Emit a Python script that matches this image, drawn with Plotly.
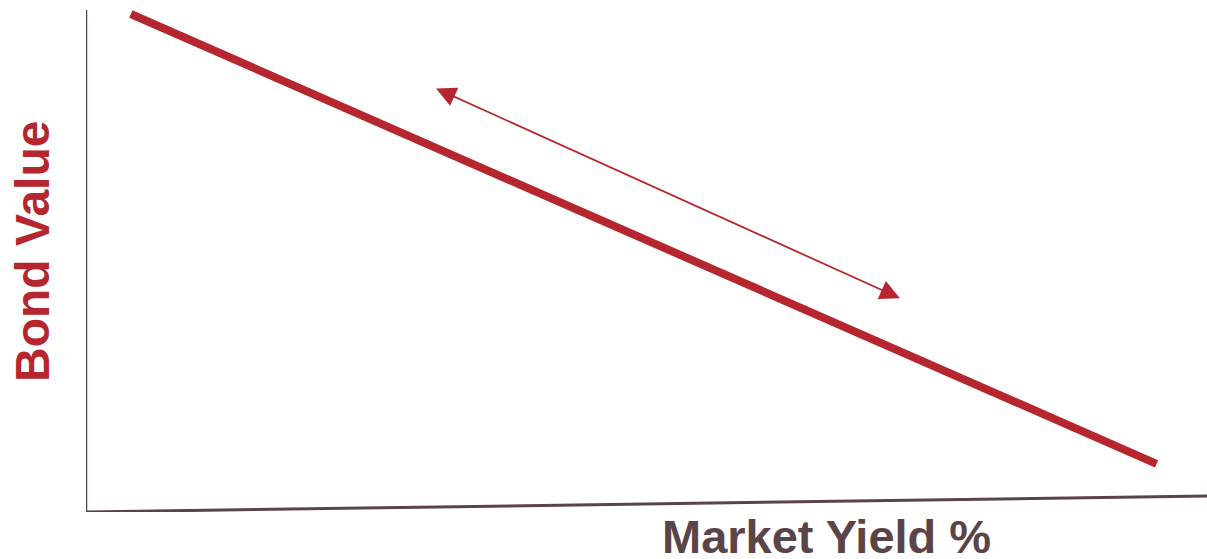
import plotly.graph_objects as go

# Abstract units: x = market yield (0-100), y = bond value (0-100)
yield_line = [4.0, 95.5]
value_line = [99.2, 9.6]

arrow_yield = [31.1, 72.6]
arrow_value = [84.5, 42.6]

x_axis_x = [0, 100]
x_axis_y = [0, 3.2]
y_axis_x = [0, 0]
y_axis_y = [0, 100]

RED = "#b5262e"
AXIS = "#5a4448"
FONT = "Liberation Sans, Arial, sans-serif"

fig = go.Figure()
fig.add_trace(go.Scatter(x=yield_line, y=value_line, mode="lines",
                         line=dict(color=RED, width=8), hoverinfo="skip",
                         showlegend=False))

fig.add_shape(type="line", x0=x_axis_x[0], y0=x_axis_y[0], x1=x_axis_x[1], y1=x_axis_y[1],
              xref="x", yref="y", line=dict(color=AXIS, width=3))
fig.add_shape(type="line", x0=y_axis_x[0], y0=y_axis_y[0], x1=y_axis_x[1], y1=y_axis_y[1],
              xref="x", yref="y", line=dict(color=AXIS, width=2.5))

fig.add_annotation(x=arrow_yield[1], y=arrow_value[1], ax=arrow_yield[0], ay=arrow_value[0],
                   xref="x", yref="y", axref="x", ayref="y", text="",
                   showarrow=True, arrowhead=2, startarrowhead=2, arrowside="end+start",
                   arrowsize=2.2, startarrowsize=2.2, arrowwidth=1.8, arrowcolor=RED)

fig.add_annotation(x=-0.0473, y=0.52, xref="paper", yref="paper", text="<b>Bond Value</b>",
                   textangle=-90, showarrow=False, xanchor="center", yanchor="middle",
                   font=dict(family=FONT, size=48, color=RED))
fig.add_annotation(x=0.6605, y=-0.048, xref="paper", yref="paper", text="<b>Market Yield %</b>",
                   showarrow=False, xanchor="center", yanchor="middle",
                   font=dict(family=FONT, size=47, color=AXIS))

fig.update_layout(
    width=1207, height=559,
    margin=dict(l=86, r=0, t=10, b=47),
    paper_bgcolor="white", plot_bgcolor="white",
    xaxis=dict(range=[0, 100], visible=False, fixedrange=True),
    yaxis=dict(range=[0, 100], visible=False, fixedrange=True),
)

fig.write_html("out.html", config={"displayModeBar": False},
               post_script="document.body.style.margin='0';document.body.style.overflow='hidden';")
